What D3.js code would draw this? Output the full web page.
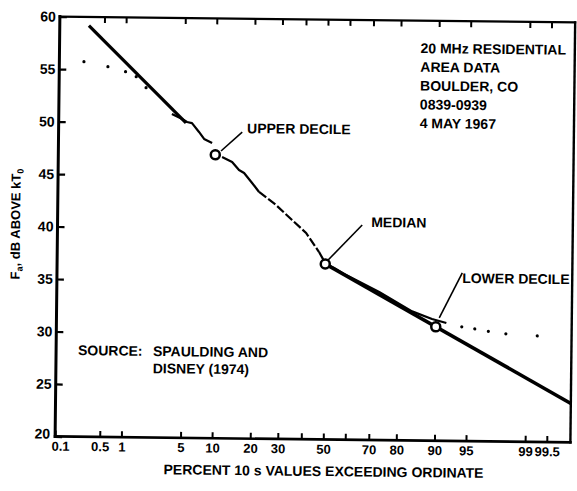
<!DOCTYPE html>
<html>
<head>
<meta charset="utf-8">
<script src="https://cdn.jsdelivr.net/npm/d3@7"></script>
<style>
  html, body { margin: 0; padding: 0; background: #fff; }
  svg { display: block; }
  text { font-family: "Liberation Sans", Arial, sans-serif; font-weight: bold; fill: #000; }
</style>
</head>
<body>
<svg id="chart" width="577" height="491"></svg>
<script>
// ---- axis definitions -------------------------------------------------
const xTickValues = [0.1, 0.5, 1, 5, 10, 20, 30, 40, 50, 60, 70, 80, 90, 95, 99, 99.5];
const xTickLabels = [0.1, 0.5, 1, 5, 10, 20, 30, 50, 70, 80, 90, 95, 99, 99.5];
const yTickValues = [20, 25, 30, 35, 40, 45, 50, 55, 60];
const xDomain = [0.1, 99.78];   // percent exceeding
const yDomain = [20, 60];       // dB above kT0

// ---- measured 10 s values: [percent exceeding, dB] ---------------------
const dotsHigh   = [[0.25, 55.73], [0.57, 55.28], [1.0, 54.82], [1.38, 54.36], [1.84, 53.32]];
const traceUpper = [[3.70, 50.85], [4.6, 50.45], [5.36, 50.1], [6.01, 50.0], [7.05, 49.16], [7.89, 48.5], [9.35, 48.13]];
const traceMid   = [[11.45, 46.8], [13.86, 46.34], [15.72, 45.58], [17.18, 45.3], [19.67, 44.36], [22.0, 43.51]];
const traceDash  = [[22.0, 43.51], [28.2, 42.3], [34.9, 40.87], [41.1, 39.66], [47.1, 37.85]];
const traceLower = [[47.1, 37.85], [50, 36.8], [54.1, 36.35], [58.7, 35.79], [73.4, 34.11], [84.3, 32.3], [89.2, 31.6], [91.97, 31.23]];
const dotsLow    = [[94.31, 30.88], [95.83, 30.7], [97.05, 30.48], [98.17, 30.26], [99.29, 30.1]];

// straight-line (log-normal) fits through the deciles and median
const fitUpper = [[0.294, 59.16], [5.23, 50.0]];
const fitLower = [[50, 36.72], [99.78, 23.7]];

// decile / median markers
const deciles = [[10, 47.0], [50, 36.72], [90, 30.85]];

// annotations: leader [from, to] and label anchor (start, baseline)
const annotations = [
  { text: "UPPER DECILE", leader: [[11.2, 47.37], [16.5, 49.2]], at: [17.94, 49.1] },
  { text: "MEDIAN",       leader: [[51.3, 37.1], [66.3, 40.48]], at: [70.0, 40.29] },
  { text: "LOWER DECILE", leader: [[90.67, 31.7], [94.3, 36.02]], at: [94.3, 35.06] }
];
const infoLines = ["20 MHz RESIDENTIAL", "AREA DATA", "BOULDER, CO", "0839-0939", "4 MAY 1967"];
const sourceLabel = "SOURCE:";
const sourceLines = ["SPAULDING AND", "DISNEY (1974)"];

// ---- inverse standard normal CDF (Acklam) ------------------------------
function probit(p) {
  const a = [-3.969683028665376e+01, 2.209460984245205e+02, -2.759285104469687e+02, 1.383577518672690e+02, -3.066479806614716e+01, 2.506628277459239e+00];
  const b = [-5.447609879822406e+01, 1.615858368580409e+02, -1.556989798598866e+02, 6.680131188771972e+01, -1.328068155288572e+01];
  const c = [-7.784894002430293e-03, -3.223964580411365e-01, -2.400758277161838e+00, -2.549732539343734e+00, 4.374664141464968e+00, 2.938163982698783e+00];
  const d = [7.784695709041462e-03, 3.224671290700398e-01, 2.445134137142996e+00, 3.754408661907416e+00];
  const pl = 0.02425, ph = 1 - pl;
  let q, r;
  if (p < pl) {
    q = Math.sqrt(-2 * Math.log(p));
    return (((((c[0]*q+c[1])*q+c[2])*q+c[3])*q+c[4])*q+c[5]) / ((((d[0]*q+d[1])*q+d[2])*q+d[3])*q+1);
  }
  if (p <= ph) {
    q = p - 0.5; r = q * q;
    return (((((a[0]*r+a[1])*r+a[2])*r+a[3])*r+a[4])*r+a[5])*q / (((((b[0]*r+b[1])*r+b[2])*r+b[3])*r+b[4])*r+1);
  }
  q = Math.sqrt(-2 * Math.log(1 - p));
  return -(((((c[0]*q+c[1])*q+c[2])*q+c[3])*q+c[4])*q+c[5]) / ((((d[0]*q+d[1])*q+d[2])*q+d[3])*q+1);
}

// probability-paper scale built on a linear scale in normal deviates
function probabilityScale(zLin) {
  const s = p => zLin(probit(p / 100));
  s.range = () => zLin.range();
  s.domain = () => xDomain.slice();
  s.copy = () => probabilityScale(zLin.copy());
  return s;
}

// ---- layout -------------------------------------------------------------
const plotLeft = 57.5, plotTop = 19.5, plotRight = 572.8, plotBottom = 439.4;
const W = plotRight - plotLeft, H = plotBottom - plotTop;

const x = probabilityScale(
  d3.scaleLinear().domain(xDomain.map(p => probit(p / 100))).range([0, W])
);
const y = d3.scaleLinear().domain(yDomain).range([H, 0]);

const svg = d3.select("#chart");
svg.append("rect").attr("width", 577).attr("height", 491).attr("fill", "#fff");

// the printed sheet sits slightly turned on the page
const page = svg.append("g").attr("transform", "rotate(0.65,316,228)");
const g = page.append("g").attr("transform", `translate(${plotLeft},${plotTop})`);

// ---- axes -----------------------------------------------------------------
const fmt = d => xTickLabels.includes(d) ? String(d) : "";

g.append("g")
  .attr("transform", `translate(0,${H})`)
  .call(d3.axisBottom(x).tickValues(xTickValues).tickFormat(fmt).tickSize(-6).tickPadding(5))
  .call(s => s.select(".domain").remove())
  .call(s => s.selectAll("line").attr("stroke", "#000").attr("stroke-width", 2))
  .call(s => s.selectAll("text").attr("font-size", 13).style("font-family", "Liberation Sans, Arial, sans-serif").style("font-weight", "bold"))
  .call(s => s.selectAll(".tick").filter(d => d === 0.1).select("text").attr("dx", 5));

g.append("g")
  .call(d3.axisTop(x).tickValues(xTickValues.slice(1)).tickFormat("").tickSize(-6))
  .call(s => s.select(".domain").remove())
  .call(s => s.selectAll("line").attr("stroke", "#000").attr("stroke-width", 2));

g.append("g")
  .call(d3.axisLeft(y).tickValues(yTickValues).tickFormat(d3.format("d")).tickSize(-7).tickPadding(4))
  .call(s => s.select(".domain").remove())
  .call(s => s.selectAll("line").attr("stroke", "#000").attr("stroke-width", 2.2))
  .call(s => s.selectAll("text").attr("font-size", 14).style("font-family", "Liberation Sans, Arial, sans-serif").style("font-weight", "bold"))
  .call(s => s.selectAll(".tick").filter(d => d === 20).select("text").attr("dy", "0.12em").attr("dx", -1));

// frame
const frame = [
  { x1: 0, y1: 0, x2: 0, y2: H, w: 3 },
  { x1: 0, y1: H, x2: W, y2: H, w: 2.7 },
  { x1: 0, y1: 0, x2: W, y2: 0, w: 2.2 },
  { x1: W, y1: 0, x2: W, y2: H, w: 2.4 }
];
g.selectAll("line.frame").data(frame).join("line")
  .attr("class", "frame")
  .attr("x1", d => d.x1).attr("y1", d => d.y1)
  .attr("x2", d => d.x2).attr("y2", d => d.y2)
  .attr("stroke", "#000").attr("stroke-width", d => d.w)
  .attr("stroke-linecap", "square");

// ---- curves ---------------------------------------------------------------
const line = d3.line().x(d => x(d[0])).y(d => y(d[1]));

g.append("path").datum(fitUpper).attr("d", line)
  .attr("fill", "none").attr("stroke", "#000").attr("stroke-width", 3.2);
g.append("path").datum(fitLower).attr("d", line)
  .attr("fill", "none").attr("stroke", "#000").attr("stroke-width", 3.6);

[traceUpper, traceMid, traceLower].forEach(seg => {
  g.append("path").datum(seg).attr("d", line)
    .attr("fill", "none").attr("stroke", "#000").attr("stroke-width", 2.2)
    .attr("stroke-linejoin", "round");
});
g.append("path").datum(traceDash).attr("d", line)
  .attr("fill", "none").attr("stroke", "#000").attr("stroke-width", 2.2)
  .attr("stroke-dasharray", "9,2.5");

g.selectAll("circle.dot").data(dotsHigh.concat(dotsLow)).join("circle")
  .attr("class", "dot")
  .attr("cx", d => x(d[0])).attr("cy", d => y(d[1])).attr("r", 1.6)
  .attr("fill", "#000");

// ---- annotations ----------------------------------------------------------
annotations.forEach(a => {
  g.append("path").datum(a.leader).attr("d", line)
    .attr("fill", "none").attr("stroke", "#000").attr("stroke-width", 1.6);
  g.append("text").attr("x", x(a.at[0])).attr("y", y(a.at[1]))
    .attr("font-size", 14).text(a.text);
});

g.selectAll("circle.decile").data(deciles).join("circle")
  .attr("class", "decile")
  .attr("cx", d => x(d[0])).attr("cy", d => y(d[1])).attr("r", 4.5)
  .attr("fill", "#fff").attr("stroke", "#000").attr("stroke-width", 2.5);

g.append("text").attr("transform", "translate(361,0)")
  .selectAll("tspan").data(infoLines).join("tspan")
  .attr("x", 0).attr("y", (d, i) => 32.4 + i * 18.75)
  .attr("font-size", 14).text(d => d);

g.append("text").attr("x", 21.9).attr("y", 338.3).attr("font-size", 14).text(sourceLabel);
g.append("text").selectAll("tspan").data(sourceLines).join("tspan")
  .attr("x", 96.9).attr("y", (d, i) => 338.3 + i * 17.2)
  .attr("font-size", 14).text(d => d);

// ---- axis titles ------------------------------------------------------------
page.append("text")
  .attr("x", 326.3).attr("y", 476)
  .attr("text-anchor", "middle").attr("font-size", 14)
  .text("PERCENT 10 s VALUES EXCEEDING ORDINATE");

const yTitle = page.append("text")
  .attr("transform", "translate(20,227.4) rotate(-90)")
  .attr("text-anchor", "middle").attr("font-size", 13);
yTitle.append("tspan").text("F");
yTitle.append("tspan").attr("dy", 3).attr("font-size", 9).text("a");
yTitle.append("tspan").attr("dy", -3).text(", dB ABOVE kT");
yTitle.append("tspan").attr("dy", 3).attr("font-size", 9).text("0");
</script>
</body>
</html>
